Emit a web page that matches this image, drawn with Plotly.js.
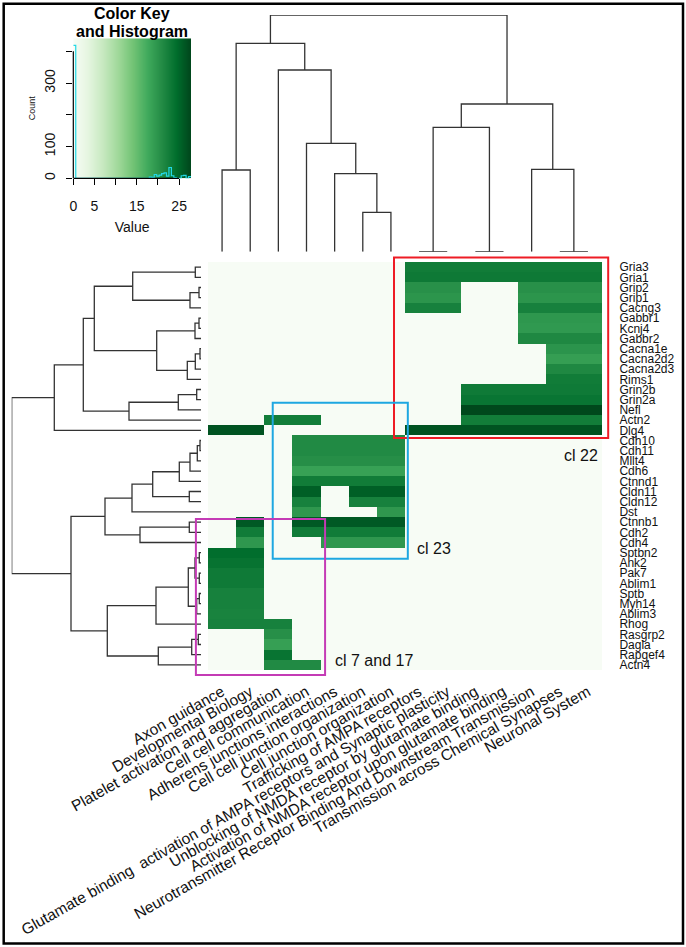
<!DOCTYPE html>
<html><head><meta charset="utf-8">
<script src="https://cdn.plot.ly/plotly-3.0.1.min.js"></script>
<style>html,body{margin:0;padding:0;background:#fff}</style>
</head><body><div id="chart" style="width:686px;height:947px"></div>
<script>
// ---------------- DATA ----------------
const pathways = [
  "Axon guidance",
  "Developmental Biology",
  "Platelet activation and aggregation",
  "Cell cell communication",
  "Adherens junctions interactions",
  "Cell cell junction organization",
  "Cell junction organization",
  "Trafficking of AMPA receptors",
  "Glutamate binding\u00a0 activation of AMPA receptors and Synaptic plasticity",
  "Unblocking of NMDA receptor by glutamate binding",
  "Activation of NMDA receptor upon glutamate binding",
  "Neurotransmitter Receptor Binding And Downstream Transmission",
  "Transmission across Chemical Synapses",
  "Neuronal System"
];
const genes = ["Gria3","Gria1","Grip2","Grip1","Cacng3","Gabbr1","Kcnj4","Gabbr2","Cacna1e","Cacna2d2",
  "Cacna2d3","Rims1","Grin2b","Grin2a","Nefl","Actn2","Dlg4","Cdh10","Cdh11","Mllt4",
  "Cdh6","Ctnnd1","Cldn11","Cldn12","Dst","Ctnnb1","Cdh2","Cdh4","Sptbn2","Ank2",
  "Pak7","Ablim1","Sptb","Myh14","Ablim3","Rhog","Rasgrp2","Dagla","Rapgef4","Actn4"];
// value of each gene (same in every pathway it belongs to)
const geneScore = [22.6,22.9,20.3,19.8,22.0,19.6,19.3,21.2,19.9,18.8,
  21.2,22.6,22.8,23.4,27.5,22.5,26.5,21.0,21.0,20.5,
  18.5,22.6,25.5,22.0,19.5,26.0,22.6,19.5,24.2,23.6,
  22.8,22.8,22.0,22.0,21.8,22.0,20.4,18.7,23.5,21.0];
// pathway columns (1-based) where each gene has a value
const geneColumns = [
  [8,9,10,11,12,13,14],[8,9,10,11,12,13,14],[8,9,12,13,14],[8,9,12,13,14],[8,9,12,13,14],
  [12,13,14],[12,13,14],[12,13,14],[13,14],[13,14],
  [13,14],[13,14],[10,11,12,13,14],[10,11,12,13,14],[10,11,12,13,14],
  [3,4,10,11,12,13,14],[1,2,8,9,10,11,12,13,14],[4,5,6,7],[4,5,6,7],[4,5,6,7],
  [4,5,6,7],[4,5,6,7],[4,6,7],[4,6,7],[4,7],
  [2,4,5,6,7],[2,4,5,6,7],[2,5,6,7],[1,2],[1,2],
  [1,2],[1,2],[1,2],[1,2],[1,2],
  [1,2,3],[3],[3],[3],[3,4]
];
// row dendrogram (hclust style: negative = leaf, positive = earlier merge)
const rowMerge = [[-1,-2],[-3,-4],[2,-5],[1,3],[-6,-7],[5,-8],[-9,-10],[7,-11],[8,-12],[6,9],
  [4,10],[-13,-14],[12,-15],[13,-16],[11,14],[15,-17],[-18,-19],[17,-20],[18,-21],[19,-22],
  [-23,-24],[20,21],[22,-25],[-26,-27],[24,-28],[23,25],[-29,-30],[-31,-32],[27,28],[-33,-34],
  [30,-35],[29,31],[32,-36],[-37,-38],[34,-39],[35,-40],[33,36],[26,37],[16,38]];
const rowHeights = [5.7,2,11,68.3,2,6,1,5.7,13.7,44.3,
  106.7,4.3,22.7,72,117.7,146.7,1,3.7,11,21.7,
  11.7,48.3,69,11.7,61,96,1.7,1.7,6,1.7,
  4.3,12.7,45,2.7,9.3,42.7,93.7,130,189.3];
// column dendrogram
const colMerge = [[-6,-7],[-5,1],[-4,2],[-3,3],[-1,-2],[5,4],[-8,-9],[-10,-11],[7,8],[-13,-14],[-12,10],[9,11],[6,12]];
const colHeights = [39.4,78,108.4,181.7,81.7,208.4,0,0,124.4,0,82.4,147.7,236.7];
const keyMax = 27.8;
const keyTickVals = [0,5,10,15,20,25];
const keyTickText = ["0","5","","15","","25"];
const countTickVals = [0,100,200,300,400];
const countTickText = ["0","100","","300",""];
const clusterLabels = ["cl 22","cl 23","cl 7 and 17"];

// ---------------- BUILD ----------------
const nR = genes.length, nC = pathways.length;
const z = genes.map((g,i)=>pathways.map((p,j)=> geneColumns[i].includes(j+1) ? geneScore[i] : 0));

const greens = ["#F7FCF5","#E5F5E0","#C7E9C0","#A1D99B","#74C476","#41AB5D","#238B45","#006D2C","#00441B"];
const cscale = greens.map((c,i)=>[i/(greens.length-1), c]);

function dendro(merge, heights){
  const pos=[], P=[], Hh=[];
  const info = id => id<0 ? {p:-id,h:0} : {p:pos[id-1], h:heights[id-1]};
  merge.forEach((m,i)=>{
    const a=info(m[0]), b=info(m[1]), h=heights[i];
    pos[i]=(a.p+b.p)/2;
    P.push(a.p,a.p,b.p,b.p,null); Hh.push(a.h,h,h,b.h,null);
  });
  return {P,Hh};
}
const rd = dendro(rowMerge,rowHeights);
const cd = dendro(colMerge,colHeights);

// histogram of values for key
const nBins = 48, bw = keyMax/nBins;
const counts = new Array(nBins).fill(0);
z.flat().forEach(v=>{ counts[Math.min(nBins-1, Math.floor(v/bw))]++; });
const histX = [], histY = [];
for(let k=0;k<=nBins;k++){ histX.push(k*bw); histY.push(counts[Math.min(k,nBins-1)]); }
const countMax = Math.max(...counts)/0.95;

// ---------------- GEOMETRY (pixels) ----------------
const W=686, H=947;
const hmL=208, hmR=602, hmT=262, hmB=670;
const colPx=(hmR-hmL)/nC, rowPx=(hmB-hmT)/nR;
const xr=[0.0,14.8], yr=[41.2,-0.1];
const xPx0=hmL-(0.5-xr[0])*colPx, xPx1=hmR+(xr[1]-(nC+0.5))*colPx;
const yPx0=hmT-(0.5-yr[1])*rowPx, yPx1=hmB+(yr[0]-(nR+0.5))*rowPx;
const fx = px=>px/W, fy = px=>1-px/H;
const keyL=73.3, keyR=191, keyT=38.3, keyB=178.3;

const font = "Liberation Sans, Arial, sans-serif";
const lineCol = "#333333";

const traces = [
  {type:"heatmap", z:z, x:pathways.map((p,j)=>j+1), y:genes.map((g,i)=>i+1),
   colorscale:cscale, zmin:0, zmax:keyMax, showscale:false, hoverinfo:"skip", xaxis:"x", yaxis:"y"},
  {type:"scatter", mode:"lines", x:rd.Hh, y:rd.P, xaxis:"x2", yaxis:"y",
   line:{color:lineCol,width:1.3}, hoverinfo:"skip"},
  {type:"scatter", mode:"lines", x:cd.P, y:cd.Hh, xaxis:"x", yaxis:"y3",
   line:{color:lineCol,width:1.3}, hoverinfo:"skip"},
  {type:"heatmap", z:[[0,keyMax],[0,keyMax]], x:[0,keyMax], y:[0,countMax], zsmooth:"best",
   colorscale:cscale, zmin:0, zmax:keyMax, showscale:false, hoverinfo:"skip", xaxis:"x4", yaxis:"y4"},
  {type:"scatter", mode:"lines", x:histX, y:histY, xaxis:"x4", yaxis:"y4",
   line:{color:"#22D8E6",width:1.2,shape:"hv"}, hoverinfo:"skip"}
];

const boxes = [
  {x0:7.11,x1:14.72,y0:0.06,y1:17.75,color:"#EE1C25"},
  {x0:2.80,x1:7.60,y0:14.29,y1:29.59,color:"#1EA7E1"},
  {x0:0.07,x1:4.66,y0:25.70,y1:40.99,color:"#C43BB5"}
];
const labelPos = [[13.75,19.5],[8.53,28.55],[6.40,39.6]];

const layout = {
  width:W, height:H, margin:{l:0,r:0,t:0,b:0},
  paper_bgcolor:"#fff", plot_bgcolor:"#fff", showlegend:false,
  font:{family:font,color:"#111"},
  xaxis:{domain:[fx(xPx0),fx(xPx1)], range:xr, anchor:"y", showgrid:false, zeroline:false,
    tickvals:pathways.map((p,j)=>j+1), ticktext:pathways, tickangle:-29.5, ticks:"",
    ticklabeloverflow:"allow",
    tickfont:{size:15.5,family:font,color:"#111"}, ticklabelstandoff:2},
  yaxis:{domain:[fy(yPx1),fy(yPx0)], range:yr, anchor:"x", side:"right", showgrid:false, zeroline:false,
    tickvals:genes.map((g,i)=>i+1), ticktext:genes, ticks:"", ticklabeloverflow:"allow",
    tickfont:{size:12,family:font,color:"#111"}, ticklabelstandoff:8},
  xaxis2:{domain:[fx(11.7),fx(201)], range:[rowHeights[rowHeights.length-1],0], anchor:"y", visible:false},
  yaxis3:{domain:[fy(251.7),fy(15)], range:[0,colHeights[colHeights.length-1]], anchor:"x", visible:false},
  xaxis4:{domain:[fx(keyL),fx(keyR)], range:[0,keyMax], anchor:"y4", showgrid:false, zeroline:false,
    showline:false, ticks:"outside", ticklen:6, tickcolor:"#000",
    tickvals:keyTickVals, ticktext:keyTickText, tickfont:{size:14,family:font,color:"#111"},
    ticklabelstandoff:9, title:{text:"Value", font:{size:14,family:font,color:"#111"}, standoff:9}},
  yaxis4:{domain:[fy(keyB),fy(keyT)], range:[0,countMax], anchor:"x4", showgrid:false, zeroline:false,
    showline:false, ticks:"outside", ticklen:6, tickcolor:"#000",
    tickvals:countTickVals, ticktext:countTickText, tickangle:-90, tickfont:{size:14,family:font,color:"#111"},
    ticklabelstandoff:6, title:{text:"Count", font:{size:9,family:font,color:"#111"}, standoff:4}},
  shapes: boxes.map(b=>({type:"rect", xref:"x", yref:"y", x0:b.x0, x1:b.x1, y0:b.y0, y1:b.y1,
      line:{color:b.color,width:2}, fillcolor:"rgba(0,0,0,0)"}))
    .concat([
      {type:"rect", xref:"paper", yref:"paper", x0:fx(3.7), x1:fx(683), y0:fy(943.5), y1:fy(3.8),
       line:{color:"#000",width:2.5}},
      // key axis lines spanning first..last tick (R style)
      {type:"line", xref:"paper", yref:"y4", x0:fx(keyL), x1:fx(keyL),
       y0:countTickVals[0], y1:countTickVals[countTickVals.length-1], line:{color:"#000",width:1.2}},
      {type:"line", xref:"x4", yref:"paper", x0:keyTickVals[0], x1:keyTickVals[keyTickVals.length-1],
       y0:fy(keyB), y1:fy(keyB), line:{color:"#000",width:1.2}}
    ]),
  annotations: clusterLabels.map((t,i)=>({text:t, xref:"x", yref:"y", x:labelPos[i][0], y:labelPos[i][1],
      showarrow:false, font:{size:16,family:font,color:"#111"}}))
    .concat([
      {text:"<b>Color Key</b>", xref:"paper", yref:"paper", x:fx(131.8), y:fy(13.5), xanchor:"center", yanchor:"middle",
       showarrow:false, font:{size:16,family:font,color:"#000"}},
      {text:"<b>and Histogram</b>", xref:"paper", yref:"paper", x:fx(131.8), y:fy(31.5), xanchor:"center", yanchor:"middle",
       showarrow:false, font:{size:16,family:font,color:"#000"}}
    ])
};

Plotly.newPlot("chart", traces, layout, {staticPlot:true, displayModeBar:false});
</script>
</body></html>
